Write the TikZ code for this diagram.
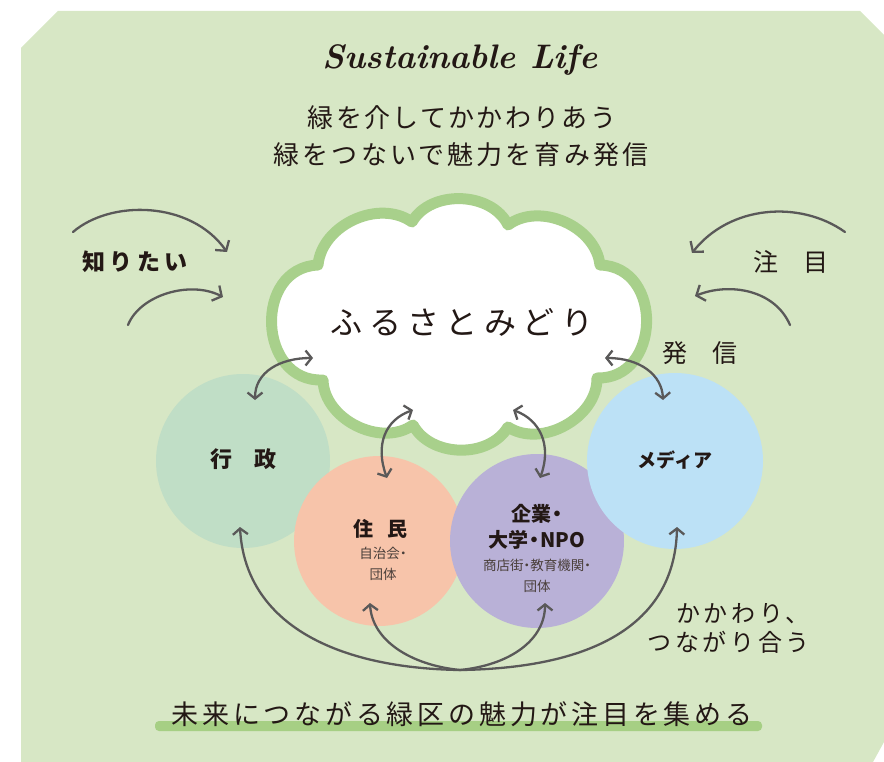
\documentclass[tikz,border=0pt]{standalone}
\usepackage{fontspec}
\usetikzlibrary{arrows.meta}
\newfontfamily\jp{Noto Sans CJK JP}
\definecolor{bg}{HTML}{D7E7C5}
\definecolor{ink}{HTML}{231815}
\definecolor{subink}{HTML}{4A3F3A}
\definecolor{arrowc}{HTML}{5A5959}
\definecolor{cloudg}{HTML}{A8D08B}
\definecolor{barg}{HTML}{A6CF84}
\definecolor{cmint}{HTML}{C0DEC6}
\definecolor{cpeach}{HTML}{F7C4AA}
\definecolor{cpurple}{HTML}{B9B1D7}
\definecolor{cblue}{HTML}{BCE1F6}
\newcommand{\fs}[1]{\fontsize{#1}{#1}\selectfont}
\newcommand{\lsp}[1]{\addfontfeature{LetterSpace=#1}}
\newcommand{\md}{\kern-0.2em・\kern-0.2em}
\newcommand{\mds}{\kern-0.25em・\kern-0.25em}
\begin{document}
\begin{tikzpicture}[x=1pt,y=-1pt,
  txt/.style={text=ink, inner sep=0pt},
  bub/.style={circle, inner sep=0pt, minimum size=174pt, draw=none},
  arr/.style={draw=arrowc, line width=2.3pt, line cap=round,
    -{Straight Barb[length=7pt,width=17pt]}},
  darr/.style={draw=arrowc, line width=2.3pt, line cap=round,
    {Straight Barb[length=6pt,width=15pt]}-{Straight Barb[length=6pt,width=15pt]}},
  uarr/.style={draw=arrowc, line width=2.3pt, line cap=round,
    -{Straight Barb[length=6pt,width=15pt]}},
  cloudline/.style={draw=cloudg, line width=11pt, fill=white, line join=round}]
\useasboundingbox (0,0) rectangle (884,762);
% background
\fill[bg] (21,48) -- (58,11) -- (860,11) -- (884,35) -- (884,742) -- (873,762) -- (21,762) -- cycle;

% title
\node[txt, font=\bfseries\itshape\fs{34}] (title) at (460,60) {Sustainable Life};
\node[txt, font=\jp\fs{26}\lsp{9}] (sub1) at (462,118) {緑を介してかかわりあう};
\node[txt, font=\jp\fs{26}\lsp{12}] (sub2) at (461,155) {緑をつないで魅力を育み発信};

% circles
\node[bub, fill=cmint] (gyo) at (243,461) {};
\node[bub, fill=cpeach, minimum size=170pt] (ju) at (379,541) {};
\node[bub, fill=cpurple] (kig) at (537,541) {};
\node[bub, fill=cblue, minimum size=176pt] (med) at (675,461) {};

% cloud
\draw[cloudline] (318,265) to[bend left=60] (412,222) to[bend left=62] (508,225)
  to[bend left=60] (600,265) to[bend left=90,looseness=1.45] (597,378)
  to[bend left=62] (508,427) to[bend left=60] (413,425) to[bend left=62] (323,380)
  to[bend left=90,looseness=1.45] cycle;
\node[txt, font=\jp\fs{32}\lsp{20}] (cloud) at (462,322) {ふるさとみどり};

% circle labels
\node[txt, font=\jp\bfseries\fs{22}] (gyoL) at (243,459) {行　政};
\node[txt, font=\jp\bfseries\fs{20}] (juL) at (380,529) {住\hspace{14pt}民};
\node[txt, text=subink, font=\jp\fs{13.5}, align=center] (juS) at (383,564) {自治会\mds\\[7pt]団体};
\node[txt, font=\jp\bfseries\fs{20}, align=center] (kigL) at (537,527) {企業\md\\[6pt]大学\md NPO};
\node[txt, text=subink, font=\jp\fs{13.5}, align=center] (kigS) at (537,576) {商店街\mds 教育機関\mds\\[7pt]団体};
\node[txt, font=\jp\bfseries\fs{19}] (medL) at (675,460) {メディア};

% side labels
\node[txt, font=\jp\bfseries\fs{23}\lsp{18}] (shiri) at (135,262) {知りたい};
\node[txt, font=\jp\fs{25}] (chu) at (791,262) {注　目};
\node[txt, font=\jp\fs{25}] (hasshin) at (700,353) {発　信};
\node[txt, font=\jp\fs{24}\lsp{15}, align=right, anchor=east] (kaka) at (810,628) {かかわり、\\[5pt]つながり合う};

% bottom
\fill[barg, rounded corners=4pt] (155,721) rectangle (762,731);
\node[txt, font=\jp\fs{27}\lsp{14}] (bottom) at (462,714) {未来につながる緑区の魅力が注目を集める};

% coordinates for connector ends
\coordinate (l1s) at (73,232);   \coordinate (l1e) at (227,252);
\coordinate (l2s) at (128,325);  \coordinate (l2e) at (223,297);
\coordinate (r1s) at (845,232);  \coordinate (r1e) at (692,253);
\coordinate (r2s) at (790,325);  \coordinate (r2e) at (695,296);
\coordinate (gyoT) at (255,400); \coordinate (cGyo) at (313,358);
\coordinate (juT) at (387,478);  \coordinate (cJu) at (413,410);
\coordinate (kigT) at (540,478); \coordinate (cKig) at (513,410);
\coordinate (medT) at (663,400); \coordinate (cMed) at (605,358);
\coordinate (hub) at (460,670);
\coordinate (gyoB) at (240,527); \coordinate (juB) at (370,603);
\coordinate (kigB) at (545,603); \coordinate (medB) at (677,527);

% side arrows
\draw[arr] (l1s) .. controls (110,200) and (190,200) .. (l1e);
\draw[arr] (l2s) .. controls (140,295) and (190,280) .. (l2e);
\draw[arr] (r1s) .. controls (800,200) and (730,205) .. (r1e);
\draw[arr] (r2s) .. controls (775,290) and (730,282) .. (r2e);

% cloud <-> circles
\draw[darr] (gyoT) .. controls (255,372) and (280,358) .. (cGyo);
\draw[darr] (juT) .. controls (375,445) and (385,420) .. (cJu);
\draw[darr] (kigT) .. controls (552,445) and (540,420) .. (cKig);
\draw[darr] (cMed) .. controls (640,358) and (662,375) .. (medT);

% bottom connections
\draw[uarr] (hub) .. controls (330,668) and (245,620) .. (gyoB);
\draw[uarr] (hub) .. controls (410,665) and (372,640) .. (juB);
\draw[uarr] (hub) .. controls (510,665) and (545,640) .. (kigB);
\draw[uarr] (hub) .. controls (600,668) and (675,620) .. (medB);
\end{tikzpicture}
\end{document}
